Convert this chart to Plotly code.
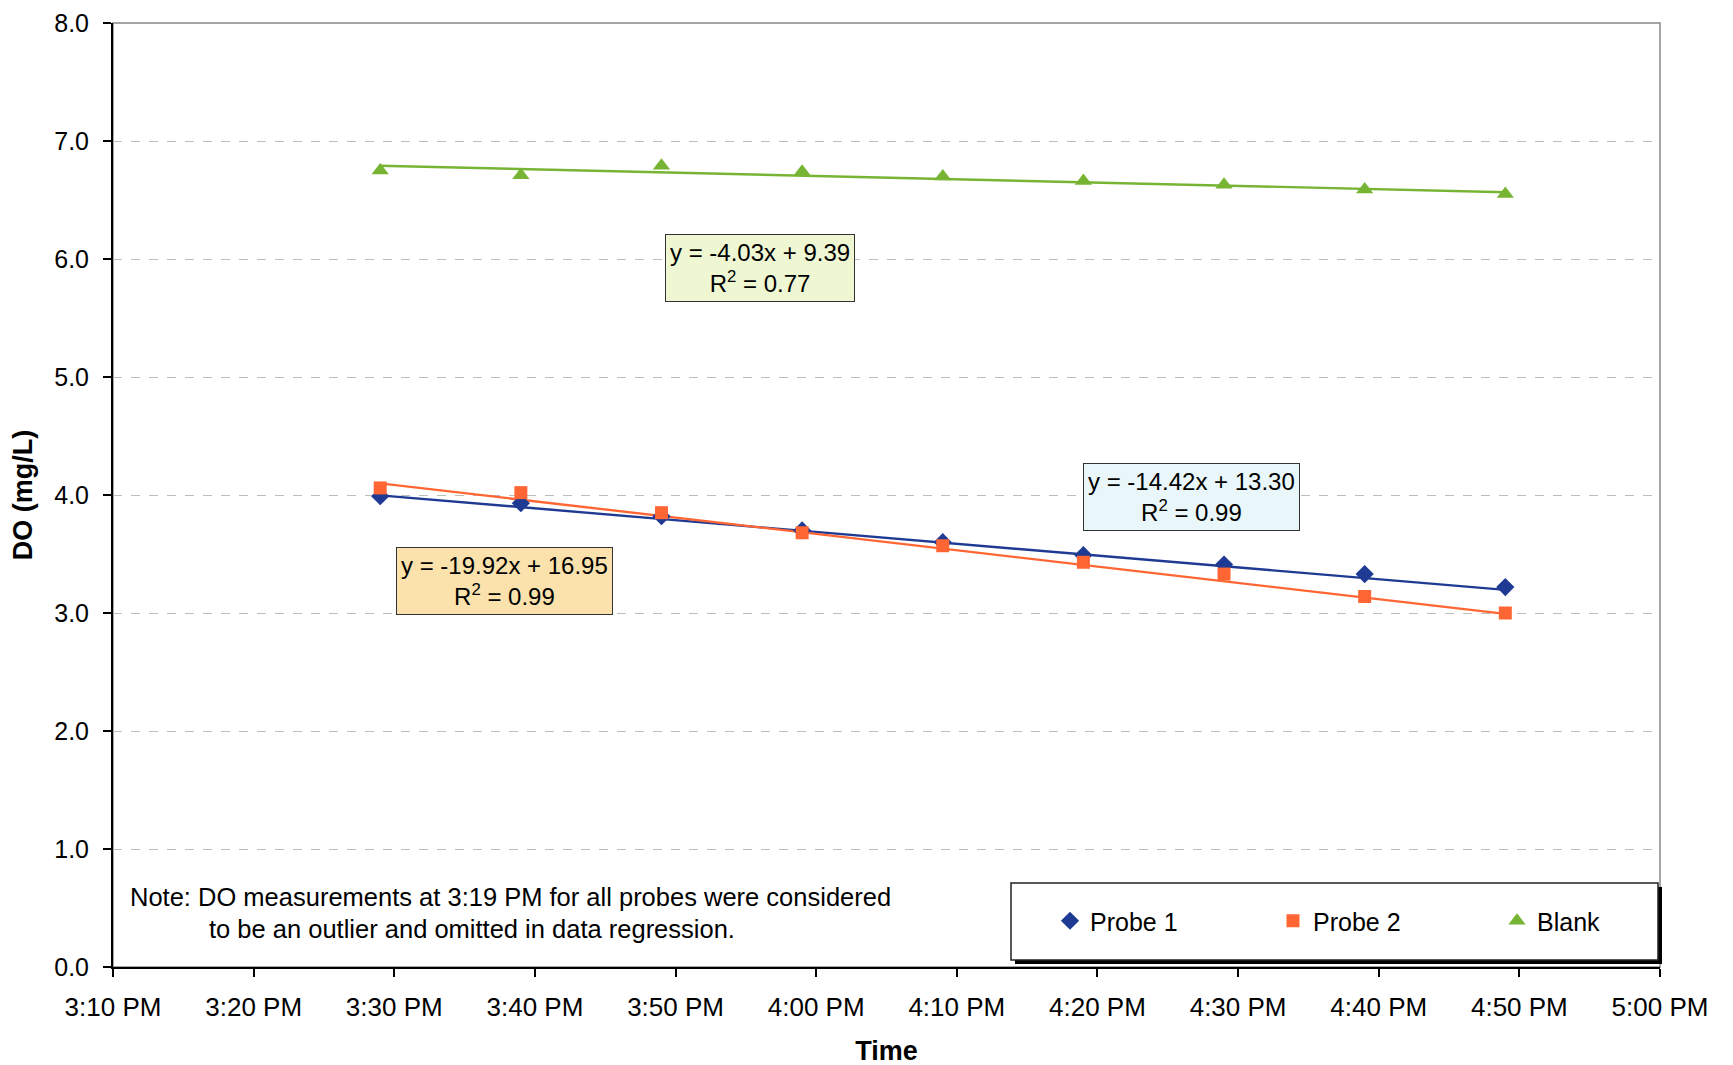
import plotly.graph_objects as go

# ---- data ----
times = ["15:29", "15:39", "15:49", "15:59", "16:09", "16:19", "16:29", "16:39", "16:49"]
probe1 = [3.99, 3.93, 3.82, 3.70, 3.60, 3.49, 3.41, 3.33, 3.22]
probe2 = [4.06, 4.02, 3.85, 3.68, 3.57, 3.43, 3.33, 3.14, 3.00]
blank = [6.75, 6.71, 6.79, 6.74, 6.70, 6.66, 6.63, 6.59, 6.55]

# regression (x = fraction of a day) as printed on the chart
fit_names = ["Probe 1", "Probe 2", "Blank"]
fit_slope = [-14.42, -19.92, -4.03]
fit_intercept = [13.30, 16.95, 9.39]
fit_r2 = ["0.99", "0.99", "0.77"]

x_ticks = ["15:10", "15:20", "15:30", "15:40", "15:50", "16:00", "16:10", "16:20", "16:30", "16:40", "16:50", "17:00"]

DAY = "2000-01-01 "
xs = [DAY + t for t in times]


def day_frac(t):
    h, m = t.split(":")
    return (int(h) + int(m) / 60.0) / 24.0


colors = {"Probe 1": "#1f3a93", "Probe 2": "#ff6633", "Blank": "#77b433"}
symbols = {"Probe 1": "diamond", "Probe 2": "square", "Blank": "triangle-up"}
msizes = {"Probe 1": 14, "Probe 2": 13, "Blank": 15}
series = {"Probe 1": probe1, "Probe 2": probe2, "Blank": blank}
legend_ids = {"Probe 1": "legend", "Probe 2": "legend2", "Blank": "legend3"}

FONT = "Liberation Sans, Arial, sans-serif"

# page layout (the page body has an 8px offset)
W, H = 1733, 1065
OFF = 8
PL, PR, PT, PB = 113, 1660, 23, 967  # plot area in page pixels
L, T = PL - OFF, PT - OFF
R, B = W - (PR - OFF), H - (PB - OFF)
pw, ph = PR - PL, PB - PT


def px_x(p):
    return (p - PL) / pw


def px_y(p):
    return (PB - p) / ph


fig = go.Figure()

# trend lines
for name, a, b in zip(fit_names, fit_slope, fit_intercept):
    tx = [xs[0], xs[-1]]
    ty = [a * day_frac(times[0]) + b, a * day_frac(times[-1]) + b]
    fig.add_trace(go.Scatter(x=tx, y=ty, mode="lines",
                             line=dict(color=colors[name], width=2.4),
                             showlegend=False, hoverinfo="skip"))

# data markers
for name in fit_names:
    fig.add_trace(go.Scatter(x=xs, y=series[name], mode="markers", name=name,
                             legend=legend_ids[name],
                             marker=dict(symbol=symbols[name], size=msizes[name],
                                         color=colors[name])))

# legend frame with shadow
fig.add_shape(type="rect", xref="paper", yref="paper",
              x0=px_x(1015), x1=px_x(1662), y0=px_y(964), y1=px_y(887),
              fillcolor="black", line=dict(width=0), layer="above")
fig.add_shape(type="rect", xref="paper", yref="paper",
              x0=px_x(1011), x1=px_x(1658), y0=px_y(960), y1=px_y(883),
              fillcolor="white", line=dict(color="#222222", width=1.5), layer="above")
# plot border (top/right grey)
fig.add_shape(type="rect", xref="paper", yref="paper", x0=0, x1=1, y0=0, y1=1,
              line=dict(color="#888888", width=1.5), layer="below")

# equation boxes
box_specs = [
    ("Blank", DAY + "15:56", 5.92, "#eef6d2"),
    ("Probe 1", DAY + "16:26:40", 3.98, "#eaf7fa"),
    ("Probe 2", DAY + "15:37:50", 3.27, "#fbe2ad"),
]
for name, bx, by, bg in box_specs:
    i = fit_names.index(name)
    txt = "y = %.2fx + %.2f<br>R<sup>2</sup> = %s" % (fit_slope[i], fit_intercept[i], fit_r2[i])
    fig.add_annotation(x=bx, y=by, xref="x", yref="y", text=txt, showarrow=False,
                       font=dict(family=FONT, size=24, color="black"),
                       bgcolor=bg, bordercolor="#333333", borderwidth=1, borderpad=4,
                       align="center")

# note
fig.add_annotation(x=px_x(128), y=px_y(897), xref="paper", yref="paper",
                   xanchor="left", yanchor="middle", showarrow=False,
                   text="Note: DO measurements at 3:19 PM for all probes were considered",
                   font=dict(family=FONT, size=25.5, color="black"))
fig.add_annotation(x=px_x(207), y=px_y(929), xref="paper", yref="paper",
                   xanchor="left", yanchor="middle", showarrow=False,
                   text="to be an outlier and omitted in data regression.",
                   font=dict(family=FONT, size=25.5, color="black"))

leg_common = dict(orientation="h", yanchor="middle", xanchor="left",
                  bgcolor="rgba(0,0,0,0)", borderwidth=0,
                  font=dict(family=FONT, size=25, color="black"), itemwidth=30)

fig.update_layout(
    width=W, height=H,
    margin=dict(l=L, r=R, t=T, b=B, autoexpand=False),
    paper_bgcolor="white", plot_bgcolor="white",
    font=dict(family=FONT, size=25, color="black"),
    legend=dict(x=px_x(1050), y=px_y(921), **leg_common),
    legend2=dict(x=px_x(1273), y=px_y(921), **leg_common),
    legend3=dict(x=px_x(1497), y=px_y(921), **leg_common),
    xaxis=dict(type="date", range=[DAY + x_ticks[0], DAY + x_ticks[-1]],
               tickvals=[DAY + t for t in x_ticks], tickformat="%-I:%M %p",
               ticks="outside", ticklen=8, tickcolor="black", tickwidth=1.5,
               ticklabelstandoff=8, ticklabeloverflow="allow",
               showline=True, linecolor="black", linewidth=2, showgrid=False,
               title=dict(text="<b>Time</b>", font=dict(family=FONT, size=27), standoff=20),
               tickfont=dict(family=FONT, size=26)),
    yaxis=dict(range=[0, 8], dtick=1, tickformat=".1f",
               ticks="outside", ticklen=8, tickcolor="black", tickwidth=1.5,
               ticklabelstandoff=9, ticklabeloverflow="allow",
               showline=True, linecolor="black", linewidth=2,
               showgrid=True, gridcolor="#bdbdbd", griddash="dash", gridwidth=1,
               zeroline=False,
               title=dict(text="<b>DO (mg/L)</b>", font=dict(family=FONT, size=27), standoff=14),
               tickfont=dict(family=FONT, size=25)),
)

fig.write_html("out.html")
